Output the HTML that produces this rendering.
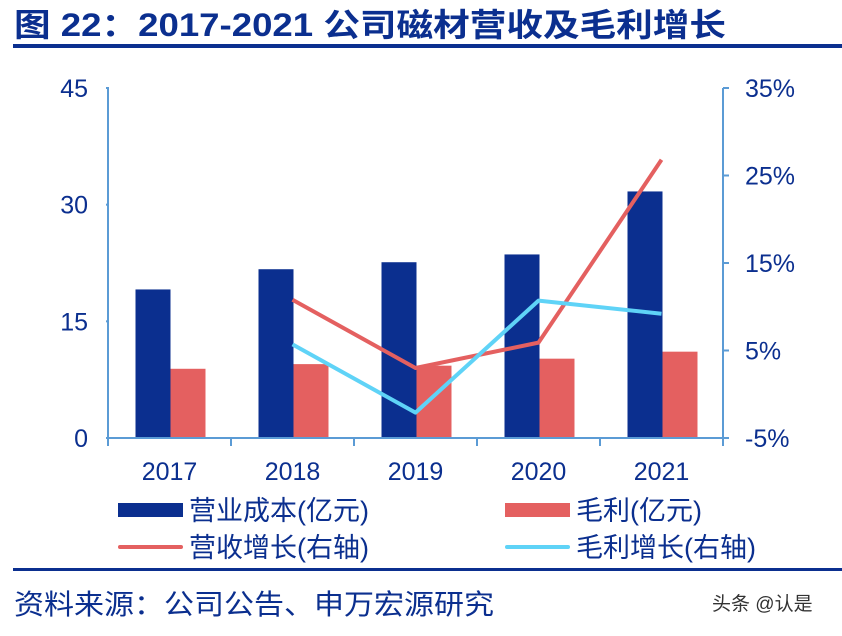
<!DOCTYPE html>
<html><head><meta charset="utf-8"><style>
body{margin:0;width:842px;height:631px;background:#fff;overflow:hidden;font-family:"Liberation Sans","Noto Sans CJK SC",sans-serif;}
</style></head><body>
<svg width="842" height="631" xmlns="http://www.w3.org/2000/svg" style="font-family:'Liberation Sans','Noto Sans CJK SC',sans-serif">
<text x="14" y="36" font-size="32" font-weight="bold" fill="#0B2F8F" textLength="712" lengthAdjust="spacingAndGlyphs">图 22：2017-2021 公司磁材营收及毛利增长</text>
<rect x="13" y="44" width="829" height="4" fill="#0B2F8F"/>
<g id="chart"></g>
<rect x="13" y="568" width="829" height="3" fill="#0B2F8F"/>
<text x="14" y="614" font-size="28" fill="#0B2F8F" textLength="480" lengthAdjust="spacingAndGlyphs">资料来源：公司公告、申万宏源研究</text>
<text x="712" y="610" font-size="19" fill="#333">头条 @认是</text>
</svg>
<script>
const categories=["2017","2018","2019","2020","2021"];
const costValues=[19.1,21.7,22.6,23.6,31.7];
const profitValues=[8.9,9.5,9.3,10.2,11.1];
const revGrowth=[null,10.8,3.0,5.9,26.8];
const profitGrowth=[null,5.7,-2.1,10.7,9.2];
const leftTicks=[0,15,30,45];
const rightTicks=[-5,5,15,25,35];
const NS="http://www.w3.org/2000/svg";
const g=document.getElementById('chart');
const X0=108,X1=723,Y0=438,Y1=88;
const band=(X1-X0)/categories.length;
const yL=v=>Y0-(v-0)/45*(Y0-Y1);
const yR=v=>Y0-(v+5)/40*(Y0-Y1);
const xc=i=>X0+band*(i+0.5);
function mk(t,a){const e=document.createElementNS(NS,t);for(const k in a)e.setAttribute(k,a[k]);g.appendChild(e);return e;}
const axc="#5B9BD5";
categories.forEach((c,i)=>{
  let b=mk('rect',{x:xc(i)-34,y:yL(costValues[i]),width:35,height:Y0-yL(costValues[i]),fill:'#0B2F8F'});
  
  
  let r=mk('rect',{x:xc(i)+1,y:yL(profitValues[i]),width:35,height:Y0-yL(profitValues[i]),fill:'#E46060'});
  
  
  let t=mk('text',{x:xc(i),y:480,'font-size':25,'text-anchor':'middle',fill:'#0B2F8F'});t.textContent=c;
  
  
});
let ax=mk('line',{x1:X0,y1:Y1,x2:X0,y2:Y0,stroke:axc,'stroke-width':2});


let ax2=mk('line',{x1:X1,y1:Y1,x2:X1,y2:Y0,stroke:axc,'stroke-width':2});


let ax3=mk('line',{x1:X0,y1:Y0,x2:X1,y2:Y0,stroke:axc,'stroke-width':2});


for(let i=0;i<=categories.length;i++){mk('line',{x1:X0+band*i,y1:Y0,x2:X0+band*i,y2:Y0+8,stroke:axc,'stroke-width':2});}
leftTicks.forEach(v=>{mk('line',{x1:X0-2,y1:yL(v),x2:X0+1,y2:yL(v),stroke:axc,'stroke-width':2});
  let t=mk('text',{x:88,y:yL(v)+9,'font-size':25,'text-anchor':'end',fill:'#0B2F8F'});t.textContent=v;
  
  });
rightTicks.forEach(v=>{mk('line',{x1:X1,y1:yR(v),x2:X1+6,y2:yR(v),stroke:axc,'stroke-width':2});
  let t=mk('text',{x:745,y:yR(v)+9,'font-size':25,fill:'#0B2F8F'});t.textContent=v+'%';
  
  });
function line(arr,col,name){let p=[];arr.forEach((v,i)=>{if(v!==null)p.push(xc(i)+','+yR(v));});
  let l=mk('polyline',{points:p.join(' '),fill:'none',stroke:col,'stroke-width':4,'stroke-linejoin':'round'});
  
  }
line(revGrowth,'#E46060','revenue-growth-line');
line(profitGrowth,'#5FD3F7','profit-growth-line');
function leg(x,y,kind,col,label,name){
  let s=kind==='bar'?mk('rect',{x:x,y:y-7,width:65,height:14,fill:col}):mk('line',{x1:x+2,y1:y,x2:x+63,y2:y,stroke:col,'stroke-width':4,'stroke-linecap':'round'});
  
  
  let t=mk('text',{x:x+71,y:y+10,'font-size':27,fill:'#0B2F8F'});t.textContent=label;
  
  }
leg(118,510,'bar','#0B2F8F','营业成本(亿元)','legend-cost');
leg(505,510,'bar','#E46060','毛利(亿元)','legend-profit');
leg(118,547,'line','#E46060','营收增长(右轴)','legend-revenue-growth');
leg(505,547,'line','#5FD3F7','毛利增长(右轴)','legend-profit-growth');
</script>
</body></html>
